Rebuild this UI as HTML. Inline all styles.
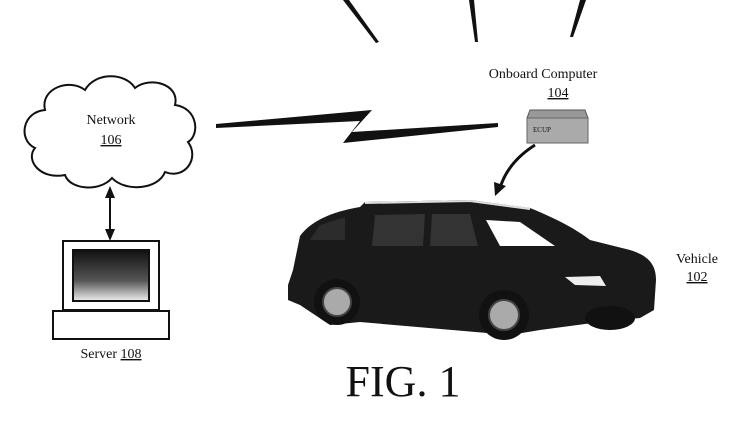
<!DOCTYPE html>
<html><head><style>
body{margin:0;background:#fff;width:750px;height:421px;overflow:hidden}
text{font-family:"Liberation Serif",serif;fill:#111}
</style></head><body>
<svg width="750" height="421" viewBox="0 0 750 421" xmlns="http://www.w3.org/2000/svg">
<defs>
<linearGradient id="scr" x1="0" y1="0" x2="0" y2="1"><stop offset="0" stop-color="#111"/><stop offset="0.6" stop-color="#555"/><stop offset="1" stop-color="#eee"/></linearGradient>
<marker id="ah" markerWidth="10" markerHeight="10" refX="5" refY="5" orient="auto"><path d="M0,0 L10,5 L0,10 Z" fill="#111"/></marker>
</defs>
<!-- radiating lines -->
<polygon points="343,0 349,0 379,42 376,43" fill="#111"/>
<polygon points="469,0 474,0 478,42 475,42" fill="#111"/>
<polygon points="580,0 586,0 573,37 570,37" fill="#111"/>
<!-- cloud -->
<path d="M45,110 C40,88 70,78 85,90 C95,72 125,72 135,88 C150,76 180,84 175,105 C198,108 200,135 188,142 C200,158 185,180 165,172 C158,190 125,192 112,178 C100,192 70,190 65,175 C40,180 25,160 35,148 C18,140 22,112 45,110 Z" fill="#fff" stroke="#111" stroke-width="2"/>
<text x="111" y="124" font-size="14" text-anchor="middle">Network</text>
<text x="111" y="144" font-size="14" text-anchor="middle" text-decoration="underline">106</text>
<!-- double arrow -->
<line x1="110" y1="196" x2="110" y2="232" stroke="#111" stroke-width="2"/>
<polygon points="110,186 105,198 115,198" fill="#111"/>
<polygon points="110,241 105,229 115,229" fill="#111"/>
<!-- lightning -->
<polygon points="216,124 372,110 352,132 498,123 498,127 343,143 360,121 216,128" fill="#111"/>
<!-- onboard computer -->
<text x="543" y="78" font-size="14" text-anchor="middle">Onboard Computer</text>
<text x="558" y="97" font-size="14" text-anchor="middle" text-decoration="underline">104</text>
<polygon points="530,110 585,110 588,118 527,118" fill="#999" stroke="#555"/>
<rect x="527" y="118" width="61" height="25" fill="#aaa" stroke="#666"/>
<text x="533" y="132" font-size="7">ECUP</text>
<path d="M535,145 Q508,162 500,188" fill="none" stroke="#111" stroke-width="3"/>
<polygon points="495,196 494,182 506,186" fill="#111"/>
<!-- server -->
<rect x="63" y="241" width="96" height="69" fill="#fff" stroke="#111" stroke-width="2"/>
<rect x="73" y="250" width="76" height="51" fill="url(#scr)" stroke="#111" stroke-width="2"/>
<rect x="53" y="311" width="116" height="28" fill="#fff" stroke="#111" stroke-width="2"/>
<text x="111" y="358" font-size="14" text-anchor="middle">Server <tspan text-decoration="underline">108</tspan></text>
<!-- car -->
<path d="M300,236 C310,222 330,212 360,207 L365,202 L470,200 L530,208 C560,220 580,232 590,240 L630,250 C650,256 656,266 656,280 L654,310 L640,318 L600,322 L540,330 L510,335 L360,322 L330,325 L300,305 L288,300 L288,285 L293,270 Z" fill="#1a1a1a"/>
<path d="M320,225 L345,217 L345,240 L310,240 Z" fill="#2c2c2c"/>
<path d="M375,215 L425,214 L423,246 L372,246 Z" fill="#333"/>
<path d="M432,214 L470,214 L478,246 L430,246 Z" fill="#333"/>
<path d="M486,220 L520,222 L555,246 L500,246 Z" fill="#fff"/>
<path d="M365,203 L470,201 L530,209" fill="none" stroke="#ddd" stroke-width="2"/>
<path d="M565,277 L600,276 L606,286 L575,285 Z" fill="#eee"/>
<circle cx="337" cy="302" r="23" fill="#111"/><circle cx="337" cy="302" r="14" fill="#aaa" stroke="#444" stroke-width="2"/>
<circle cx="504" cy="315" r="25" fill="#111"/><circle cx="504" cy="315" r="15" fill="#aaa" stroke="#444" stroke-width="2"/>
<ellipse cx="610" cy="318" rx="25" ry="12" fill="#111"/>
<text x="697" y="263" font-size="14" text-anchor="middle">Vehicle</text>
<text x="697" y="281" font-size="14" text-anchor="middle" text-decoration="underline">102</text>
<text x="403" y="396" font-size="44" text-anchor="middle">FIG. 1</text>
</svg>
</body></html>
